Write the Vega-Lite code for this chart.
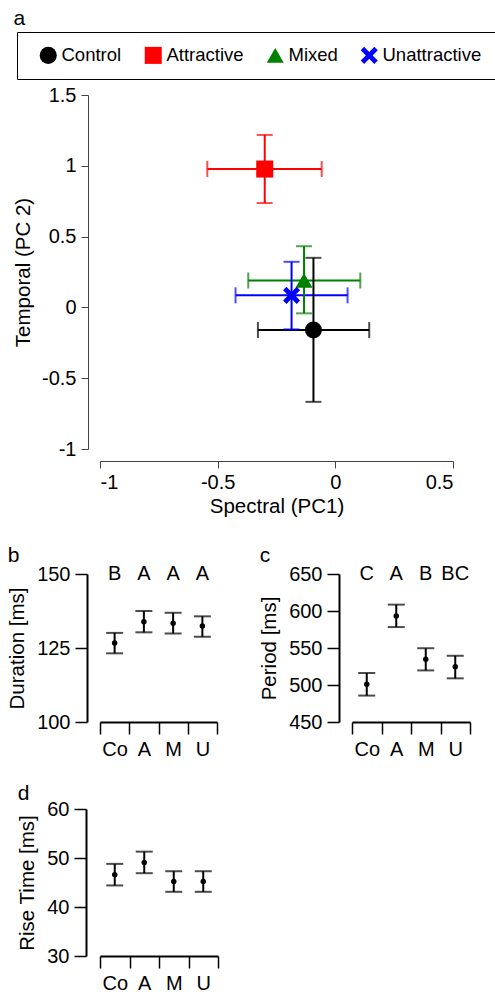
{
  "$schema": "https://vega.github.io/schema/vega-lite/v6.json",
  "padding": {"left": 7, "top": 8, "right": 0, "bottom": 0},
  "autosize": {"type": "pad"},
  "config": {
    "font": "Liberation Sans",
    "view": {"stroke": null},
    "axis": {"grid": false, "labelFont": "Liberation Sans", "titleFont": "Liberation Sans", "labelFontSize": 20, "titleFontSize": 20.5, "titleFontWeight": "normal", "labelColor": "black", "titleColor": "black", "domainColor": "black", "tickColor": "black"},
    "title": {"fontSize": 21, "fontWeight": "normal", "anchor": "start", "frame": "bounds", "color": "black"},
    "legend": {"labelFontSize": 18.5, "labelColor": "black", "labelFont": "Liberation Sans"}
  },
  "resolve": {"legend": {"color": "independent", "shape": "independent"}},
  "datasets": {
    "pca": [
      {"group": "Control", "x": -0.093, "xlo": -0.329, "xhi": 0.144, "y": -0.16, "ylo": -0.667, "yhi": 0.35},
      {"group": "Attractive", "x": -0.30, "xlo": -0.544, "xhi": -0.058, "y": 0.977, "ylo": 0.737, "yhi": 1.218},
      {"group": "Mixed", "x": -0.133, "xlo": -0.37, "xhi": 0.106, "y": 0.19, "ylo": -0.042, "yhi": 0.432},
      {"group": "Unattractive", "x": -0.186, "xlo": -0.424, "xhi": 0.052, "y": 0.085, "ylo": -0.155, "yhi": 0.322}
    ],
    "dur": [
      {"g": "Co", "mean": 126.7, "lo": 123.2, "hi": 130.1, "letter": "B"},
      {"g": "A", "mean": 133.9, "lo": 130.3, "hi": 137.5, "letter": "A"},
      {"g": "M", "mean": 133.4, "lo": 129.9, "hi": 136.9, "letter": "A"},
      {"g": "U", "mean": 132.4, "lo": 128.8, "hi": 135.7, "letter": "A"}
    ],
    "per": [
      {"g": "Co", "mean": 500.9, "lo": 485.7, "hi": 516.2, "letter": "C"},
      {"g": "A", "mean": 593.3, "lo": 578.3, "hi": 608.6, "letter": "A"},
      {"g": "M", "mean": 534.9, "lo": 519.7, "hi": 549.7, "letter": "B"},
      {"g": "U", "mean": 524.7, "lo": 509.0, "hi": 539.5, "letter": "BC"}
    ],
    "rise": [
      {"g": "Co", "mean": 46.6, "lo": 44.4, "hi": 48.8},
      {"g": "A", "mean": 49.1, "lo": 46.9, "hi": 51.3},
      {"g": "M", "mean": 45.2, "lo": 43.1, "hi": 47.3},
      {"g": "U", "mean": 45.2, "lo": 43.1, "hi": 47.3}
    ]
  },
  "spacing": 28,
  "vconcat": [
    {
      "title": {"text": "a", "offset": 2.5},
      "width": 353,
      "height": 354,
      "data": {"name": "pca"},
      "layer": [
        {
          "mark": {"type": "rule", "strokeWidth": 2},
          "encoding": {
            "x": {"field": "xlo", "type": "quantitative", "scale": {"domain": [-1, 0.5], "nice": false, "zero": false}, "axis": {"values": [-1, -0.5, 0, 0.5], "labelExpr": "'' + datum.value", "offset": 12, "tickSize": 7, "domainColor": "#444", "tickColor": "#444", "domainWidth": 1, "labelPadding": 4, "title": "Spectral (PC1)", "titlePadding": 4}},
            "x2": {"field": "xhi"},
            "y": {"field": "y", "type": "quantitative", "scale": {"domain": [-1, 1.5], "nice": false, "zero": false}, "axis": {"values": [-1, -0.5, 0, 0.5, 1, 1.5], "labelExpr": "'' + datum.value", "offset": 12, "tickSize": 7, "domainColor": "#444", "tickColor": "#444", "domainWidth": 1, "labelPadding": 5, "title": "Temporal (PC 2)", "titlePadding": 8}},
            "stroke": {"field": "group", "type": "nominal", "scale": {"domain": ["Control", "Attractive", "Mixed", "Unattractive"], "range": ["#000000", "#ff0000", "#008000", "#0000ff"]}, "legend": null}
          }
        },
        {
          "mark": {"type": "rule", "strokeWidth": 2},
          "encoding": {
            "x": {"field": "x", "type": "quantitative"},
            "y": {"field": "ylo", "type": "quantitative"},
            "y2": {"field": "yhi"},
            "stroke": {"field": "group", "type": "nominal", "legend": null}
          }
        },
        {
          "mark": {"type": "tick", "orient": "vertical", "size": 16, "thickness": 2},
          "encoding": {"x": {"field": "xlo", "type": "quantitative"}, "y": {"field": "y", "type": "quantitative"}, "fill": {"field": "group", "type": "nominal", "scale": {"domain": ["Control", "Attractive", "Mixed", "Unattractive"], "range": ["#000000", "#ff0000", "#008000", "#0000ff"]}, "legend": null}}
        },
        {
          "mark": {"type": "tick", "orient": "vertical", "size": 16, "thickness": 2},
          "encoding": {"x": {"field": "xhi", "type": "quantitative"}, "y": {"field": "y", "type": "quantitative"}, "fill": {"field": "group", "type": "nominal", "legend": null}}
        },
        {
          "mark": {"type": "tick", "orient": "horizontal", "size": 16, "thickness": 2},
          "encoding": {"x": {"field": "x", "type": "quantitative"}, "y": {"field": "ylo", "type": "quantitative"}, "fill": {"field": "group", "type": "nominal", "legend": null}}
        },
        {
          "mark": {"type": "tick", "orient": "horizontal", "size": 16, "thickness": 2},
          "encoding": {"x": {"field": "x", "type": "quantitative"}, "y": {"field": "yhi", "type": "quantitative"}, "fill": {"field": "group", "type": "nominal", "legend": null}}
        },
        {
          "mark": {"type": "point", "filled": true, "opacity": 1, "size": 290},
          "encoding": {
            "x": {"field": "x", "type": "quantitative"},
            "y": {"field": "y", "type": "quantitative"},
            "color": {"field": "group", "type": "nominal", "scale": {"domain": ["Control", "Attractive", "Mixed", "Unattractive"], "range": ["#000000", "#ff0000", "#008000", "#0000ff"]}, "legend": {"title": null, "orient": "none", "legendX": -83, "legendY": -63, "direction": "horizontal", "strokeColor": "black", "padding": 14, "symbolOffset": 8, "labelOffset": 4, "columnPadding": 14, "symbolSize": 290, "symbolStrokeWidth": 0, "symbolOpacity": 1, "labelFontSize": 18.5, "labelLimit": 300}},
            "shape": {"field": "group", "type": "nominal", "scale": {"domain": ["Control", "Attractive", "Mixed", "Unattractive"], "range": ["circle", "square", "triangle-up", "M-1,-0.6L-0.6,-1L0,-0.4L0.6,-1L1,-0.6L0.4,0L1,0.6L0.6,1L0,0.4L-0.6,1L-1,0.6L-0.4,0Z"]}, "legend": {"title": null, "orient": "none", "legendX": -83, "legendY": -63, "direction": "horizontal", "strokeColor": "black", "padding": 14, "symbolOffset": 8, "labelOffset": 4, "columnPadding": 14, "symbolSize": 290, "symbolStrokeWidth": 0, "symbolOpacity": 1, "labelFontSize": 18.5, "labelLimit": 300}}
          }
        }
      ]
    },
    {
      "spacing": 24,
      "vconcat": [
        {
          "hconcat": [
            {
              "title": {"text": "b", "offset": -2},
              "width": 117,
              "height": 148,
              "data": {"name": "dur"},
              "encoding": {
                "x": {"field": "g", "type": "nominal", "sort": ["Co", "A", "M", "U"], "scale": {"paddingInner": 0, "paddingOuter": 0}, "axis": {"tickBand": "extent", "labelAngle": 0, "tickSize": 12, "tickWidth": 1.5, "domainWidth": 2, "labelPadding": 5, "title": null}},
                "y": {"field": "mean", "type": "quantitative", "scale": {"domain": [100, 150], "nice": false, "zero": false}, "axis": {"values": [100, 125, 150], "offset": 13, "tickSize": 12, "tickWidth": 1.5, "domainWidth": 2, "labelPadding": 5, "title": "Duration [ms]", "titlePadding": 9}}
              },
              "layer": [
                {"mark": {"type": "rule", "strokeWidth": 2, "color": "black"}, "encoding": {"y": {"field": "lo", "type": "quantitative"}, "y2": {"field": "hi"}}},
                {"mark": {"type": "tick", "orient": "horizontal", "size": 17, "thickness": 2, "color": "black"}, "encoding": {"y": {"field": "lo", "type": "quantitative"}}},
                {"mark": {"type": "tick", "orient": "horizontal", "size": 17, "thickness": 2, "color": "black"}, "encoding": {"y": {"field": "hi", "type": "quantitative"}}},
                {"mark": {"type": "point", "filled": true, "size": 30, "color": "black", "opacity": 1}},
                {"mark": {"type": "text", "fontSize": 20, "baseline": "middle", "color": "black"}, "encoding": {"y": {"datum": 150}, "text": {"field": "letter"}}}
              ]
            },
            {
              "title": {"text": "c", "offset": -2},
              "width": 118,
              "height": 148,
              "data": {"name": "per"},
              "encoding": {
                "x": {"field": "g", "type": "nominal", "sort": ["Co", "A", "M", "U"], "scale": {"paddingInner": 0, "paddingOuter": 0}, "axis": {"tickBand": "extent", "labelAngle": 0, "tickSize": 12, "tickWidth": 1.5, "domainWidth": 2, "labelPadding": 5, "title": null}},
                "y": {"field": "mean", "type": "quantitative", "scale": {"domain": [450, 650], "nice": false, "zero": false}, "axis": {"values": [450, 500, 550, 600, 650], "offset": 13, "tickSize": 12, "tickWidth": 1.5, "domainWidth": 2, "labelPadding": 5, "title": "Period [ms]", "titlePadding": 9}}
              },
              "layer": [
                {"mark": {"type": "rule", "strokeWidth": 2, "color": "black"}, "encoding": {"y": {"field": "lo", "type": "quantitative"}, "y2": {"field": "hi"}}},
                {"mark": {"type": "tick", "orient": "horizontal", "size": 17, "thickness": 2, "color": "black"}, "encoding": {"y": {"field": "lo", "type": "quantitative"}}},
                {"mark": {"type": "tick", "orient": "horizontal", "size": 17, "thickness": 2, "color": "black"}, "encoding": {"y": {"field": "hi", "type": "quantitative"}}},
                {"mark": {"type": "point", "filled": true, "size": 30, "color": "black", "opacity": 1}},
                {"mark": {"type": "text", "fontSize": 20, "baseline": "middle", "color": "black"}, "encoding": {"y": {"datum": 650}, "text": {"field": "letter"}}}
              ]
            }
          ],
          "spacing": 135,
          "bounds": "flush"
        },
        {
          "title": {"text": "d", "offset": -5},
          "width": 118,
          "height": 147,
          "data": {"name": "rise"},
          "encoding": {
            "x": {"field": "g", "type": "nominal", "sort": ["Co", "A", "M", "U"], "scale": {"paddingInner": 0, "paddingOuter": 0}, "axis": {"tickBand": "extent", "labelAngle": 0, "tickSize": 12, "tickWidth": 1.5, "domainWidth": 2, "labelPadding": 5, "title": null}},
            "y": {"field": "mean", "type": "quantitative", "scale": {"domain": [30, 60], "nice": false, "zero": false}, "axis": {"values": [30, 40, 50, 60], "offset": 14, "tickSize": 12, "tickWidth": 1.5, "domainWidth": 2, "labelPadding": 5, "title": "Rise Time [ms]", "titlePadding": 9}}
          },
          "layer": [
            {"mark": {"type": "rule", "strokeWidth": 2, "color": "black"}, "encoding": {"y": {"field": "lo", "type": "quantitative"}, "y2": {"field": "hi"}}},
            {"mark": {"type": "tick", "orient": "horizontal", "size": 17, "thickness": 2, "color": "black"}, "encoding": {"y": {"field": "lo", "type": "quantitative"}}},
            {"mark": {"type": "tick", "orient": "horizontal", "size": 17, "thickness": 2, "color": "black"}, "encoding": {"y": {"field": "hi", "type": "quantitative"}}},
            {"mark": {"type": "point", "filled": true, "size": 30, "color": "black", "opacity": 1}}
          ]
        }
      ]
    }
  ]
}
